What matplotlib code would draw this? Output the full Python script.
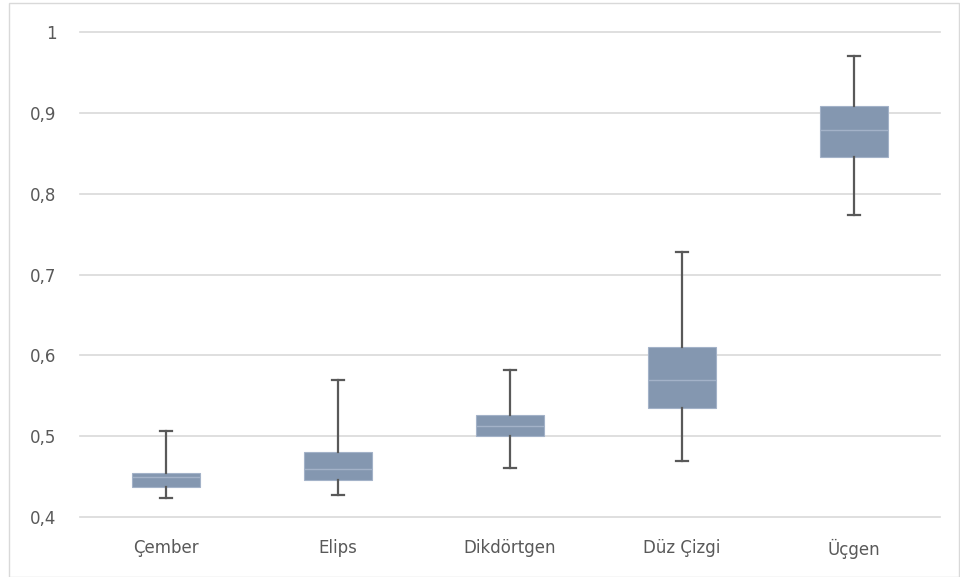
import matplotlib.pyplot as plt
from matplotlib.patches import Rectangle

# box plot values
categories = ['Çember', 'Elips', 'Dikdörtgen', 'Düz Çizgi', 'Üçgen']
whisker_low = [0.423, 0.427, 0.461, 0.469, 0.773]
q1 = [0.437, 0.446, 0.500, 0.535, 0.845]
median = [0.449, 0.459, 0.512, 0.569, 0.879]
q3 = [0.455, 0.480, 0.526, 0.610, 0.908]
whisker_high = [0.506, 0.569, 0.582, 0.728, 0.970]
y_ticks = [0.4, 0.5, 0.6, 0.7, 0.8, 0.9, 1.0]

stats = []
for i, name in enumerate(categories):
    stats.append({'label': name, 'whislo': whisker_low[i], 'q1': q1[i],
                  'med': median[i], 'q3': q3[i], 'whishi': whisker_high[i],
                  'fliers': []})

fig = plt.figure(figsize=(9.6, 5.77), dpi=100)
ax = fig.add_axes([80 / 960, 1 - 517 / 577, 860 / 960, 485 / 577])

positions = list(range(len(categories)))
ax.bxp(stats, positions=positions, widths=0.4, patch_artist=True,
       showfliers=False, capwidths=0.07,
       boxprops=dict(facecolor='#8497B0', edgecolor='#A3B2C8', linewidth=0.8),
       medianprops=dict(color='#A3B2C8', linewidth=1.0),
       whiskerprops=dict(color='#595959', linewidth=1.6),
       capprops=dict(color='#595959', linewidth=1.6),
       zorder=3)

ax.set_xlim(-0.5, len(categories) - 0.5)
ax.set_ylim(0.4, 1.0)
ax.set_yticks(y_ticks)
ax.set_yticklabels([('%g' % v).replace('.', ',') for v in y_ticks])
ax.set_xticks(positions)
ax.set_xticklabels(categories)

ax.grid(axis='y', color='#D9D9D9', linewidth=1.2, zorder=0)
for gl in ax.get_ygridlines():
    gl.set_clip_on(False)
ax.set_axisbelow(True)
for s in ax.spines.values():
    s.set_visible(False)
ax.tick_params(axis='both', length=0, labelsize=12, labelcolor='#595959')
ax.tick_params(axis='y', pad=17)
ax.tick_params(axis='x', pad=16)

# light frame round the chart
fig.patches.append(Rectangle((9 / 960, 0), 1 - 9 / 960 - 0.001, 1 - 3 / 577,
                             transform=fig.transFigure, fill=False,
                             edgecolor='#D9D9D9', linewidth=1.0))

fig.savefig('out.png', dpi=100)
